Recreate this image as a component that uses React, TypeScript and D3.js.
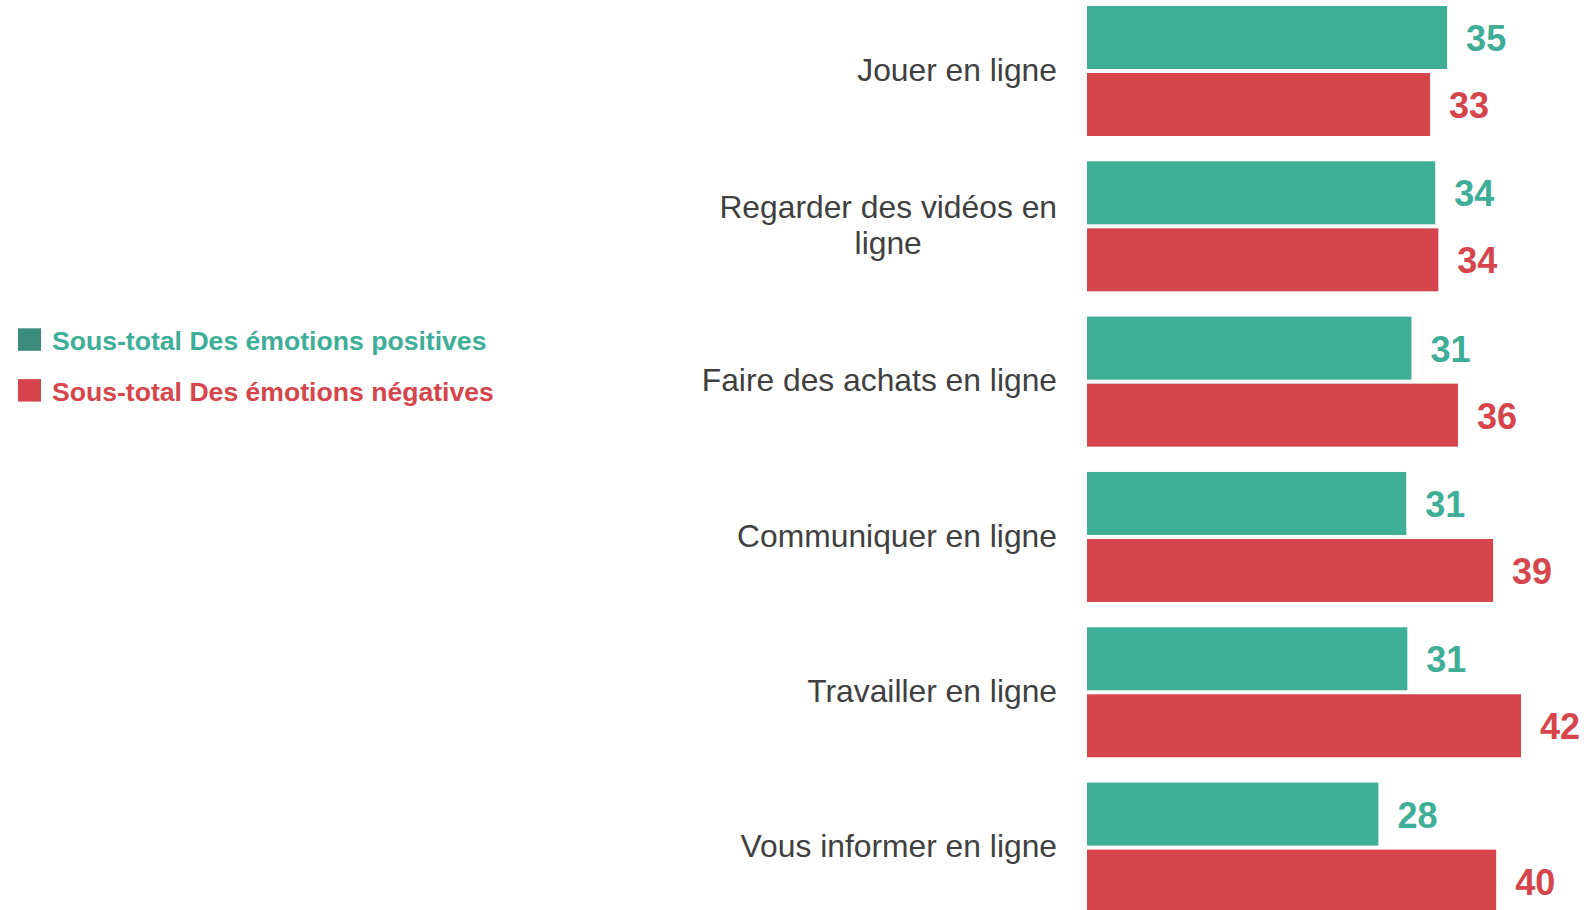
import React, { useEffect, useRef } from "react";
import * as d3 from "d3";

const categories: string[][] = [
  ["Jouer en ligne"],
  ["Regarder des vidéos en", "ligne"],
  ["Faire des achats en ligne"],
  ["Communiquer en ligne"],
  ["Travailler en ligne"],
  ["Vous informer en ligne"],
];
const positiveValues = [34.85, 33.7, 31.4, 30.9, 31.0, 28.2];
const negativeValues = [33.2, 34.0, 35.9, 39.3, 42.0, 39.6];
const seriesNames = ["Sous-total Des émotions positives", "Sous-total Des émotions négatives"];
const seriesColors = ["#3EAE96", "#D6454B"];
const legendSwatchColors = ["#3B8C7B", "#D6454B"];

const W = 1584;
const H = 910;

export default function App() {
  const ref = useRef<SVGSVGElement | null>(null);

  useEffect(() => {
    const svg = d3.select(ref.current);
    svg.selectAll("*").remove();

    const keys = categories.map((c) => c.join(" "));
    const x = d3.scaleLinear().domain([0, 42]).range([1087, 1521]);
    const y = d3
      .scaleBand<string>()
      .domain(keys)
      .range([6, 912.6])
      .paddingInner(0.163)
      .paddingOuter(0);
    const ySub = d3
      .scaleBand<number>()
      .domain([0, 1])
      .range([0, y.bandwidth()])
      .paddingInner(0.06);

    const series = [positiveValues, negativeValues];

    const g = svg.append("g");
    keys.forEach((k, i) => {
      const y0 = y(k)!;
      series.forEach((vals, s) => {
        const v = vals[i];
        const by = y0 + ySub(s)!;
        g.append("rect")
          .attr("x", x(0))
          .attr("y", by)
          .attr("width", x(v) - x(0))
          .attr("height", ySub.bandwidth())
          .attr("fill", seriesColors[s]);
        g.append("text")
          .attr("x", x(v) + 19)
          .attr("y", by + ySub.bandwidth() / 2 + 13.5)
          .attr("fill", seriesColors[s])
          .attr("font-family", "Liberation Sans, Arial, sans-serif")
          .attr("font-weight", "bold")
          .attr("font-size", 36)
          .text(String(Math.round(v)));
      });

      // category label
      const lines = categories[i];
      const lh = 36.5;
      const cy = y0 + y.bandwidth() / 2;
      const right = 1057;
      const firstBaseline = cy + 9.7 - ((lines.length - 1) * lh) / 2;
      const t = g
        .append("text")
        .attr("font-family", "Liberation Sans, Arial, sans-serif")
        .attr("font-size", 31.8)
        .attr("fill", "#404040")
        .attr("text-anchor", "middle");
      const tspans = lines.map((ln, li) =>
        t.append("tspan").attr("y", firstBaseline + li * lh).text(ln)
      );
      const widths = tspans.map((ts) => (ts.node() as SVGTextContentElement).getComputedTextLength());
      const maxW = d3.max(widths) || 0;
      const cx = right - maxW / 2;
      tspans.forEach((ts) => ts.attr("x", cx));
    });

    // legend
    const lg = svg.append("g");
    seriesNames.forEach((name, s) => {
      const top = 328.3 + s * 50.8;
      lg.append("rect")
        .attr("x", 18)
        .attr("y", top)
        .attr("width", 23)
        .attr("height", 22.5)
        .attr("fill", legendSwatchColors[s]);
      lg.append("text")
        .attr("x", 52)
        .attr("y", top + 22)
        .attr("fill", seriesColors[s])
        .attr("font-family", "Liberation Sans, Arial, sans-serif")
        .attr("font-weight", "bold")
        .attr("font-size", 26.6)
        .text(name);
    });
  }, []);

  return (
    <svg
      ref={ref}
      width={W}
      height={H}
      style={{ position: "absolute", left: 0, top: 0, display: "block", background: "#fff" }}
    />
  );
}
